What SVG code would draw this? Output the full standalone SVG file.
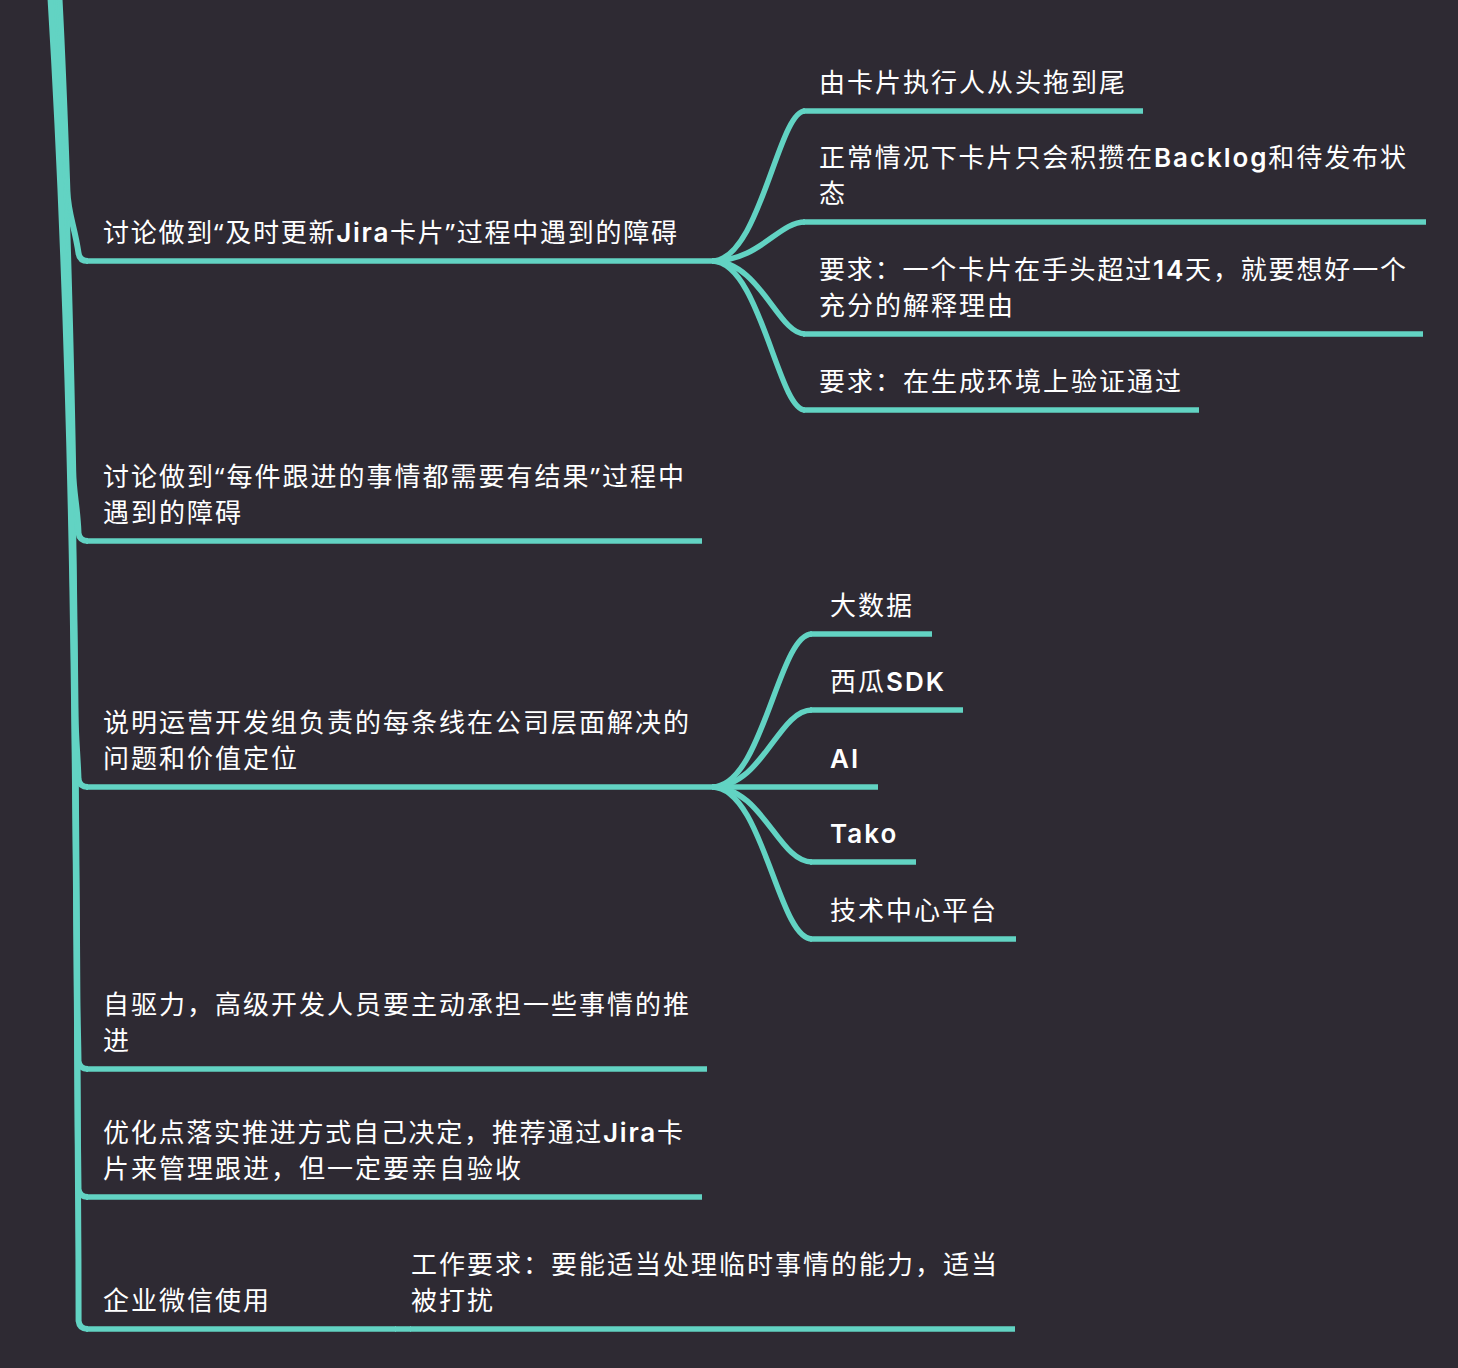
<svg xmlns="http://www.w3.org/2000/svg" width="1458" height="1368" viewBox="0 0 1458 1368">
<style>
.bg{fill:#2e2a33}
.ln{fill:none;stroke:#62d3c3;stroke-width:5.5;stroke-linecap:butt;stroke-linejoin:round}
.tr{fill:none;stroke:#62d3c3;stroke-width:6;stroke-linecap:butt}
.t{font-family:"Inter","Noto Sans CJK SC","Noto Sans",sans-serif;font-size:26px;fill:#ffffff;letter-spacing:2px}
.lat{font-weight:600}
.q{font-family:"Noto Sans","Noto Sans CJK SC",sans-serif}
</style>
<rect class="bg" x="0" y="0" width="1458" height="1368"/>
<g id="connectors">
  <!-- trunk branches from root (off canvas) to level-1 nodes -->
  <path class="tr" d="M59 -10 C62.7 57,65.1 124,67.4 191 C68.2 214,74.6 226,78.5 253 Q79.5 261 88 261"/>
  <path class="tr" d="M57.2 -10 C66.3 150.3,70.2 310.7,73.2 471 C73.6 494,77.5 506,78.5 533 Q79.5 541 88 541"/>
  <path class="tr" d="M55.4 -10 C69.6 232.3,72.9 474.7,75.6 717 C75.9 740,77.5 752,78.5 779 Q79.5 787 88 787"/>
  <path class="tr" d="M53.6 -10 C73.6 326.3,75.1 662.7,77.4 999 C77.6 1022,78.1 1034,78.5 1061 Q79.5 1069 88 1069"/>
  <path class="tr" d="M51.8 -10 C74.9 369,75.3 748,77.8 1127 C77.95 1150,78.3 1162,78.5 1189 Q79.5 1197 88 1197"/>
  <path class="tr" d="M50 -10 C76.3 413,75.6 836,78.45 1259 L78.6 1321 Q79.5 1329 88 1329"/>
  <!-- children of node 1 -->
  <path class="ln" d="M712 261 C760 261,778 111,805 111"/>
  <path class="ln" d="M712 261 C760 261,778 222,805 222"/>
  <path class="ln" d="M712 261 C760 261,778 334,805 334"/>
  <path class="ln" d="M712 261 C760 261,778 410,805 410"/>
  <!-- children of node 3 -->
  <path class="ln" d="M712 787 C763 787,778 634,812 634"/>
  <path class="ln" d="M712 787 C763 787,778 710,812 710"/>
  <path class="ln" d="M712 787 L730 787"/>
  <path class="ln" d="M712 787 C763 787,778 862,812 862"/>
  <path class="ln" d="M712 787 C763 787,778 939,812 939"/>
  <!-- child of node 6 -->
  <path class="ln" d="M395 1329 L411 1329"/>
</g>
<g id="node1">
  <line class="ln" x1="86" y1="261" x2="713" y2="261"/>
  <text class="t" x="103" y="241.5" textLength="576" lengthAdjust="spacing">讨论做到<tspan class="q">“</tspan>及时更新<tspan class="lat">Jira</tspan>卡片<tspan class="q">”</tspan>过程中遇到的障碍</text>
</g>
<g id="node1a">
  <line class="ln" x1="803" y1="111" x2="1143" y2="111"/>
  <text class="t" x="819" y="91.5">由卡片执行人从头拖到尾</text>
</g>
<g id="node1b">
  <line class="ln" x1="803" y1="222" x2="1426" y2="222"/>
  <text class="t" x="819" y="166.5" textLength="589" lengthAdjust="spacing">正常情况下卡片只会积攒在<tspan class="lat">Backlog</tspan>和待发布状</text>
  <text class="t" x="819" y="202.5">态</text>
</g>
<g id="node1c">
  <line class="ln" x1="803" y1="334" x2="1423" y2="334"/>
  <text class="t" x="819" y="278.5" textLength="589" lengthAdjust="spacing">要求：一个卡片在手头超过<tspan class="lat">14</tspan>天，就要想好一个</text>
  <text class="t" x="819" y="314.5">充分的解释理由</text>
</g>
<g id="node1d">
  <line class="ln" x1="803" y1="410" x2="1199" y2="410"/>
  <text class="t" x="819" y="390.5">要求：在生成环境上验证通过</text>
</g>
<g id="node2">
  <line class="ln" x1="86" y1="541" x2="702" y2="541"/>
  <text class="t" x="103" y="485.5" textLength="583" lengthAdjust="spacing">讨论做到<tspan class="q">“</tspan>每件跟进的事情都需要有结果<tspan class="q">”</tspan>过程中</text>
  <text class="t" x="103" y="521.5">遇到的障碍</text>
</g>
<g id="node3">
  <line class="ln" x1="86" y1="787" x2="713" y2="787"/>
  <text class="t" x="103" y="731.5">说明运营开发组负责的每条线在公司层面解决的</text>
  <text class="t" x="103" y="767.5">问题和价值定位</text>
</g>
<g id="node3a">
  <line class="ln" x1="810" y1="634" x2="932" y2="634"/>
  <text class="t" x="830" y="614.5">大数据</text>
</g>
<g id="node3b">
  <line class="ln" x1="810" y1="710" x2="963" y2="710"/>
  <text class="t" x="830" y="690.5">西瓜<tspan class="lat">SDK</tspan></text>
</g>
<g id="node3c">
  <line class="ln" x1="728" y1="787" x2="878" y2="787"/>
  <text class="t lat" x="830" y="767.5">AI</text>
</g>
<g id="node3d">
  <line class="ln" x1="810" y1="862" x2="916" y2="862"/>
  <text class="t lat" x="830" y="842.5">Tako</text>
</g>
<g id="node3e">
  <line class="ln" x1="810" y1="939" x2="1016" y2="939"/>
  <text class="t" x="830" y="919.5">技术中心平台</text>
</g>
<g id="node4">
  <line class="ln" x1="86" y1="1069" x2="707" y2="1069"/>
  <text class="t" x="103" y="1013.5">自驱力，高级开发人员要主动承担一些事情的推</text>
  <text class="t" x="103" y="1049.5">进</text>
</g>
<g id="node5">
  <line class="ln" x1="86" y1="1197" x2="702" y2="1197"/>
  <text class="t" x="103" y="1141.5" textLength="582" lengthAdjust="spacing">优化点落实推进方式自己决定，推荐通过<tspan class="lat">Jira</tspan>卡</text>
  <text class="t" x="103" y="1177.5">片来管理跟进，但一定要亲自验收</text>
</g>
<g id="node6">
  <line class="ln" x1="86" y1="1329" x2="396" y2="1329"/>
  <text class="t" x="103" y="1309.5">企业微信使用</text>
</g>
<g id="node6a">
  <line class="ln" x1="410" y1="1329" x2="1015" y2="1329"/>
  <text class="t" x="411" y="1273.5">工作要求：要能适当处理临时事情的能力，适当</text>
  <text class="t" x="411" y="1309.5">被打扰</text>
</g>
</svg>
